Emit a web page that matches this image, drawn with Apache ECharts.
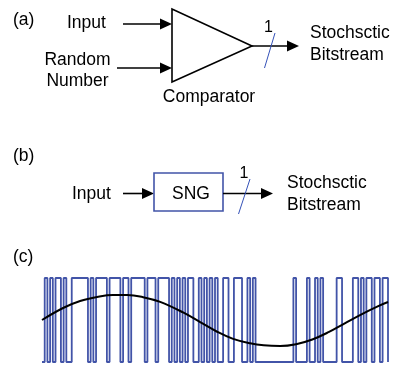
<!DOCTYPE html>
<html>
<head>
<meta charset="utf-8">
<script src="https://cdn.jsdelivr.net/npm/echarts@6/dist/echarts.min.js"></script>
<style>
  html, body { margin: 0; padding: 0; background: #fff; }
  #chart { width: 394px; height: 365px; }
</style>
</head>
<body>
<div id="chart"></div>
<script>
// Stochastic bitstream, one character per clock slot (128 slots)
const bitGroups = [
  "0101011010", "0111111010", "1111011110", "1101111101", "1101111010",
  "1010110010", "1010100110", "0111001010", "0000000000", "0001000010",
  "0101000001", "1000011010", "11011011"
];

// Analog input encoded by the stream: slot position and level (0..1)
const signalT = [0, 7.8, 14.1, 20.4, 26.3, 31.5, 37.4, 43.7, 52.2, 58.5, 64.8,
  70.7, 77.0, 82.0, 88.1, 94.0, 100.0, 106.0, 112.0, 118.0, 124.0, 128];
const signalLevel = [0.50, 0.643, 0.726, 0.774, 0.797, 0.797, 0.772, 0.716, 0.590, 0.475,
  0.360, 0.275, 0.222, 0.198, 0.190, 0.212, 0.268, 0.355, 0.460, 0.565, 0.660, 0.714];

const bits = bitGroups.join("").split("").map(Number);
const streamData = bits.map((b, i) => [i, b]);
streamData.push([bits.length, 0]);
const signalData = signalT.map((t, i) => [t, signalLevel[i]]);

const FONT = '"Liberation Sans", Arial, "Helvetica", sans-serif';
const BLUE = '#4254a8';

function label(text, x, y, opts) {
  opts = opts || {};
  const align = opts.align || 'left';
  return {
    type: 'text',
    silent: true,
    style: {
      text: text, x: x, y: y,
      font: (opts.size || 17.5) + 'px ' + FONT,
      fill: '#000',
      align: align, textAlign: align,
      verticalAlign: 'middle', textVerticalAlign: 'middle'
    }
  };
}

function arrow(x1, x2, y, headLen) {
  headLen = headLen || 12;
  return [
    { type: 'line', silent: true,
      shape: { x1: x1, y1: y, x2: x2 - headLen + 1, y2: y },
      style: { stroke: '#000', lineWidth: 1.6 } },
    { type: 'polygon', silent: true,
      shape: { points: [[x2, y], [x2 - headLen, y - 5.5], [x2 - headLen, y + 5.5]] },
      style: { fill: '#000' } }
  ];
}

function slash(x1, y1, x2, y2) {
  return { type: 'line', silent: true,
    shape: { x1: x1, y1: y1, x2: x2, y2: y2 },
    style: { stroke: '#3552b8', lineWidth: 1 } };
}

const graphics = [
  // (a) comparator-based generator
  label('(a)', 13, 20),
  label('Input', 67, 23.5),
  label('Random', 77.5, 60.5, { align: 'center' }),
  label('Number', 77.5, 81.5, { align: 'center' }),
  ...arrow(123, 172, 24),
  ...arrow(117, 172, 68),
  { type: 'polygon', silent: true,
    shape: { points: [[172, 9], [172, 82], [252, 46]] },
    style: { fill: '#fff', stroke: '#000', lineWidth: 1.6 } },
  label('Comparator', 209, 97.5, { align: 'center' }),
  ...arrow(252, 299, 46),
  slash(264.5, 68, 275, 33),
  label('1', 268.5, 27.5, { align: 'center', size: 16 }),
  label('Stochsctic', 310, 33.5),
  label('Bitstream', 310, 55),

  // (b) SNG block
  label('(b)', 13, 156.5),
  label('Input', 72, 194.5),
  ...arrow(123, 154, 193.5),
  { type: 'rect', silent: true,
    shape: { x: 154, y: 173, width: 69, height: 38 },
    style: { fill: '#fff', stroke: BLUE, lineWidth: 1.6 } },
  label('SNG', 191, 194.5, { align: 'center' }),
  ...arrow(223, 273, 193.5),
  slash(238.5, 214, 250, 179),
  label('1', 244, 174, { align: 'center', size: 16 }),
  label('Stochsctic', 287, 183.5),
  label('Bitstream', 287, 205),

  // (c) waveform caption
  label('(c)', 13, 257)
];

const chart = echarts.init(document.getElementById('chart'), null, { renderer: 'canvas' });
chart.setOption({
  animation: false,
  backgroundColor: '#fff',
  grid: { left: 42, width: 346, top: 278, height: 84, containLabel: false },
  xAxis: { type: 'value', min: 0, max: bits.length, show: false },
  yAxis: { type: 'value', min: 0, max: 1, show: false },
  graphic: graphics,
  series: [
    {
      name: 'Bitstream',
      type: 'line',
      step: 'end',
      data: streamData,
      symbol: 'none',
      clip: false,
      lineStyle: { color: BLUE, width: 1.8 }
    },
    {
      name: 'Input',
      type: 'line',
      smooth: 0.4,
      data: signalData,
      symbol: 'none',
      clip: false,
      lineStyle: { color: '#000', width: 2 }
    }
  ]
});
</script>
</body>
</html>
